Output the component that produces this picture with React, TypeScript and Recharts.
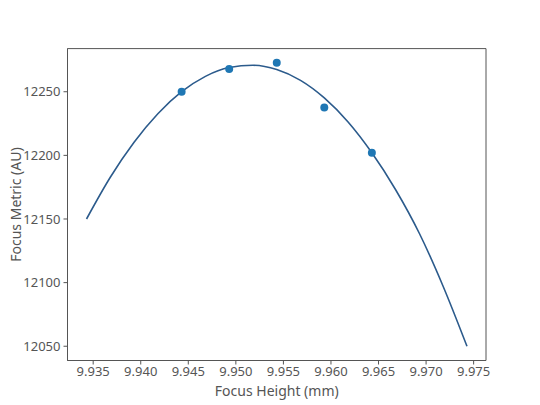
import React from "react";
import {
  ComposedChart,
  Line,
  Scatter,
  XAxis,
  YAxis,
  ZAxis,
  ReferenceArea,
} from "recharts";

// measured focus points
const pointHeights = [9.9443, 9.9493, 9.9543, 9.9593, 9.9643];
const pointMetrics = [12250, 12267.8, 12272.7, 12237.7, 12202];

// fitted curve
const fitHeights = [
  9.9343, 9.9368, 9.9393, 9.9418, 9.9443, 9.9468, 9.9493, 9.9518, 9.9543,
  9.9568, 9.9593, 9.9618, 9.9643, 9.9668, 9.9693, 9.9718, 9.9743,
];
const fitMetrics = [
  12150, 12182.8, 12210.3, 12232.7, 12250, 12262.1, 12269, 12270.8, 12267.4,
  12258.9, 12245.1, 12226.2, 12202, 12173, 12138.6, 12097, 12050,
];

const xTicks = [9.935, 9.94, 9.945, 9.95, 9.955, 9.96, 9.965, 9.97, 9.975];
const yTicks = [12050, 12100, 12150, 12200, 12250];

const X_DOMAIN = [9.9323, 9.9763];
const Y_DOMAIN = [12038.8, 12283.9];

const points = pointHeights.map((x, i) => ({ x, y: pointMetrics[i] }));
const fit = fitHeights.map((x, i) => ({ x, y: fitMetrics[i] }));

const FONT = "'Noto Sans', sans-serif";
const AXIS = "#555";
const tickStyle = { fontSize: 13, fill: "#555", fontFamily: FONT };
const labelStyle = { fontSize: 14, fill: "#555", fontFamily: FONT };

const App = () => {
  return (
    <div style={{ position: "absolute", left: 0, top: 0 }}>
      <ComposedChart
        width={540}
        height={405}
        margin={{ top: 48.6, right: 54, left: 0, bottom: 0 }}
      >
        <XAxis
          xAxisId="b"
          type="number"
          dataKey="x"
          domain={X_DOMAIN}
          ticks={xTicks}
          tickFormatter={(v: number) => v.toFixed(3)}
          allowDataOverflow
          height={44.5}
          tickSize={4}
          tickMargin={2}
          stroke={AXIS}
          tick={tickStyle}
          label={{
            value: "Focus Height (mm)",
            position: "insideBottom",
            offset: 9,
            style: labelStyle,
          }}
        />
        <YAxis
          yAxisId="l"
          type="number"
          dataKey="y"
          domain={Y_DOMAIN}
          ticks={yTicks}
          allowDataOverflow
          width={67.5}
          tickSize={4}
          tickMargin={3}
          stroke={AXIS}
          tick={tickStyle}
          label={{
            value: "Focus Metric (AU)",
            angle: -90,
            position: "insideLeft",
            offset: 16,
            style: { ...labelStyle, textAnchor: "middle" },
          }}
        />
        <ZAxis range={[50, 50]} />
        <ReferenceArea
          xAxisId="b"
          yAxisId="l"
          x1={X_DOMAIN[0]}
          x2={X_DOMAIN[1]}
          y1={Y_DOMAIN[0]}
          y2={Y_DOMAIN[1]}
          fill="none"
          stroke={AXIS}
          strokeWidth={1}
          ifOverflow="visible"
        />
        <Line
          xAxisId="b"
          yAxisId="l"
          data={fit}
          dataKey="y"
          type="monotone"
          stroke="#2c5b8c"
          strokeWidth={1.6}
          dot={false}
          isAnimationActive={false}
        />
        <Scatter
          xAxisId="b"
          yAxisId="l"
          data={points}
          dataKey="y"
          fill="#1f77b4"
          isAnimationActive={false}
        />
      </ComposedChart>
    </div>
  );
};

export default App;
